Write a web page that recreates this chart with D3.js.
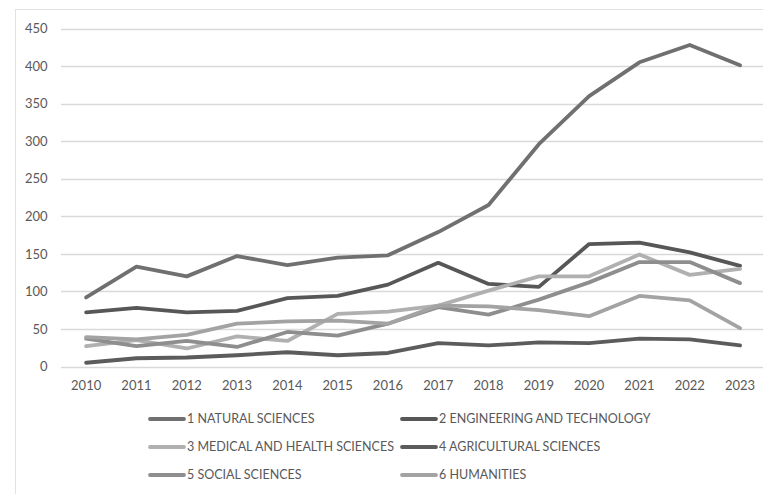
<!DOCTYPE html>
<html>
<head>
<meta charset="utf-8">
<script src="https://cdn.jsdelivr.net/npm/d3@7"></script>
<style>
  html, body { margin: 0; padding: 0; background: #ffffff; }
  svg { display: block; }
  text { font-family: Lato, "Open Sans", sans-serif; fill: #595959; }
</style>
</head>
<body>
<svg id="chart" width="763" height="494"></svg>
<script>
// Publications per field of science, 2010–2023
const years = ["2010","2011","2012","2013","2014","2015","2016","2017","2018","2019","2020","2021","2022","2023"];
const yTicks = [0, 50, 100, 150, 200, 250, 300, 350, 400, 450];

const seriesNames = [
  "1 NATURAL SCIENCES",
  "2 ENGINEERING AND TECHNOLOGY",
  "3 MEDICAL AND HEALTH SCIENCES",
  "4 AGRICULTURAL SCIENCES",
  "5 SOCIAL SCIENCES",
  "6 HUMANITIES"
];
const naturalSciences      = [92, 133, 120, 147, 135, 145, 148, 179, 215, 296, 360, 405, 428, 401];
const engineeringTech      = [72, 78, 72, 74, 91, 94, 109, 138, 110, 106, 163, 165, 152, 134];
const medicalHealth        = [27, 35, 24, 40, 34, 70, 73, 81, 101, 120, 120, 149, 122, 130];
const agriculturalSciences = [5, 11, 12, 15, 19, 15, 18, 31, 28, 32, 31, 37, 36, 28];
const socialSciences       = [37, 27, 34, 26, 46, 41, 57, 79, 69, 89, 112, 139, 139, 111];
const humanities           = [39, 36, 42, 57, 60, 61, 57, 81, 80, 75, 67, 94, 88, 51];

const seriesValues = [naturalSciences, engineeringTech, medicalHealth, agriculturalSciences, socialSciences, humanities];
const seriesColors = ["#707070", "#575757", "#b0b0b0", "#5c5c5c", "#8e8e8e", "#a3a3a3"];

const svg = d3.select("#chart");

// chart area frame (continues past the right and bottom edges)
svg.append("rect")
  .attr("x", 15.5).attr("y", 9.5)
  .attr("width", 800).attr("height", 520)
  .attr("fill", "#ffffff")
  .attr("stroke", "#e2e2e2").attr("stroke-width", 1);

const plotLeft = 61, plotTop = 28.5, plotBottom = 366.5;
const x = d3.scaleBand().domain(years).range([plotLeft, plotLeft + 14 * 50.3]);
const y = d3.scaleLinear().domain([0, 450]).range([plotBottom, plotTop]);
const cx = d => x(d) + x.bandwidth() / 2;

// horizontal gridlines
svg.append("g")
  .selectAll("line")
  .data(yTicks)
  .join("line")
  .attr("x1", plotLeft).attr("x2", 770)
  .attr("y1", d => Math.round(y(d)) + 0.5).attr("y2", d => Math.round(y(d)) + 0.5)
  .attr("stroke", "#d9d9d9").attr("stroke-width", 1.3);

// y axis labels
const yAxis = d3.axisLeft(y).tickValues(yTicks).tickSize(0).tickPadding(0);
const gy = svg.append("g").attr("transform", `translate(47.5,0)`).call(yAxis);
gy.select(".domain").remove();
gy.selectAll("text").attr("font-size", 13).style("font-family", "Lato, 'Open Sans', sans-serif").attr("fill", "#595959");

// x axis labels
const xAxis = d3.axisBottom(x).tickSize(0).tickPadding(0);
const gx = svg.append("g").attr("transform", `translate(0,${plotBottom + 14})`).call(xAxis);
gx.select(".domain").remove();
gx.selectAll("text").attr("font-size", 13).style("font-family", "Lato, 'Open Sans', sans-serif").attr("fill", "#595959");

// series lines
const line = d3.line()
  .x((d, i) => cx(years[i]))
  .y(d => y(d));

svg.append("g")
  .selectAll("path")
  .data(seriesValues)
  .join("path")
  .attr("d", d => line(d))
  .attr("fill", "none")
  .attr("stroke", (d, i) => seriesColors[i])
  .attr("stroke-width", 3.8)
  .attr("stroke-linejoin", "round")
  .attr("stroke-linecap", "round");

// legend, two columns by three rows
const legendCols = [150, 402];
const legendRows = [419, 447, 475];
const legend = svg.append("g")
  .selectAll("g")
  .data(seriesNames)
  .join("g")
  .attr("transform", (d, i) => `translate(${legendCols[i % 2]},${legendRows[Math.floor(i / 2)]})`);

legend.append("line")
  .attr("x1", 0).attr("x2", 34)
  .attr("y1", 0).attr("y2", 0)
  .attr("stroke", (d, i) => seriesColors[i])
  .attr("stroke-width", 3.8)
  .attr("stroke-linecap", "round");

legend.append("text")
  .attr("x", 37).attr("y", 0)
  .attr("dy", "0.35em")
  .attr("font-size", 12.5)
  .text(d => d);
</script>
</body>
</html>
